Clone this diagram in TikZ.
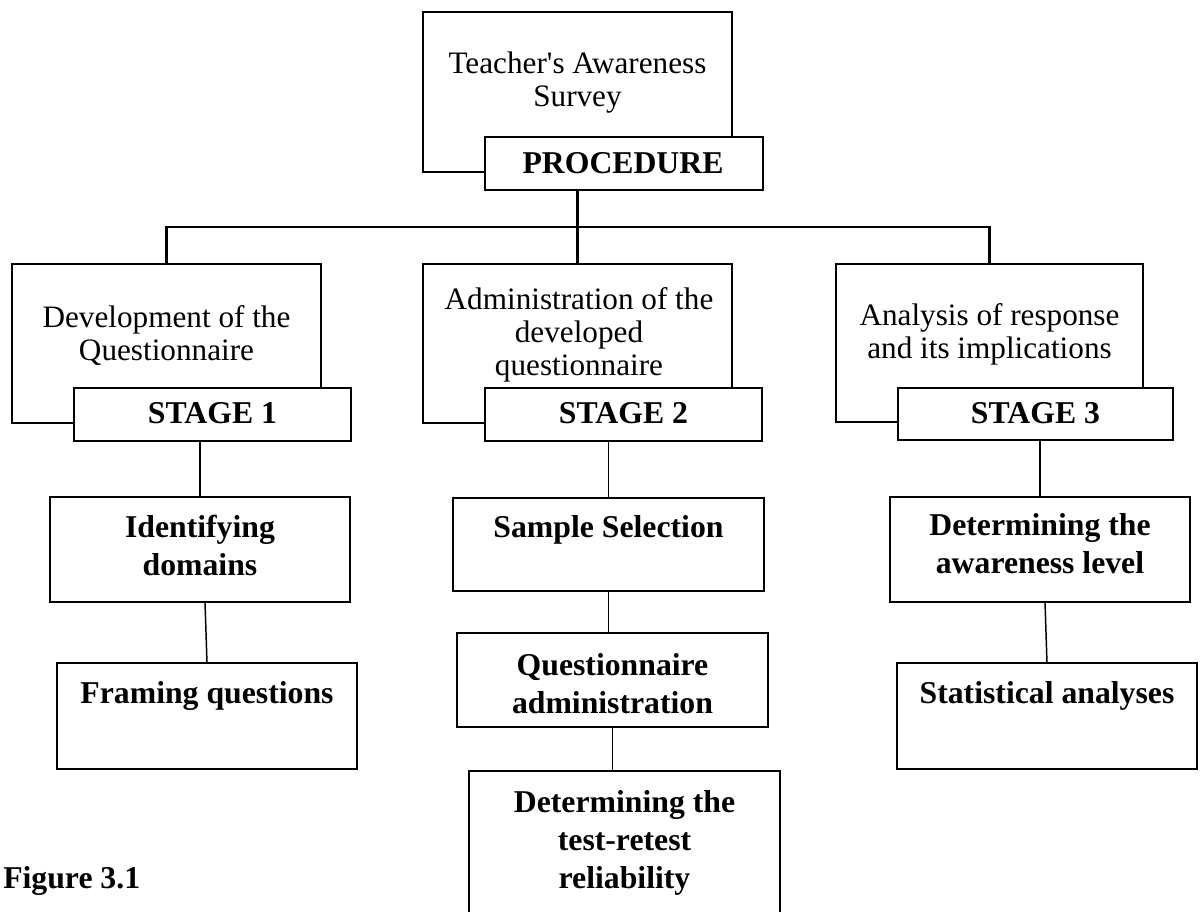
\documentclass[tikz,border=0pt]{standalone}
\usepackage{fontspec}
\setmainfont{Liberation Serif}[Ligatures=TeXOff]
\usetikzlibrary{calc}
\newcommand\mylines[1]{\begin{tabular}[t]{@{}c@{}}#1\end{tabular}}
\newcommand\bx[6]{\node[#1, minimum width={(#4-#2)*0.75pt}, minimum height={(#5-#3)*0.75pt}] (#6) at ({(#2+#4)/2},{(#3+#5)/2}) {};}
\begin{document}
\begin{tikzpicture}[x=0.75pt,y=-0.75pt,
  mainbox/.style={draw, line width=1.9pt, fill=white, inner sep=0pt, outer sep=0pt},
  subbox/.style={draw, line width=1.3pt, fill=white, inner sep=0pt, outer sep=0pt},
  thicklink/.style={line width=1.9pt},
  thinlink/.style={line width=1.1pt},
  regtext/.style={anchor=base, inner sep=0pt, font=\fontsize{23.4}{24.75}\selectfont},
  boldtext/.style={anchor=base, inner sep=0pt, font=\fontsize{23.8}{28.5}\selectfont\bfseries},
]
\useasboundingbox (0,0) rectangle (1200,911);
\clip (0,0) rectangle (1200,911);
\fill[white] (0,0) rectangle (1200,911);

% connectors
\coordinate (hub) at (578,227);

% boxes
\bx{mainbox}{423}{12}{732}{172}{tb}
\bx{mainbox}{485}{137}{763}{190}{proc}
\bx{mainbox}{12}{264}{321}{423}{s1}
\bx{mainbox}{74}{388}{351}{441}{st1}
\bx{mainbox}{423}{264}{732}{423}{s2}
\bx{mainbox}{485}{388}{762}{441}{st2}
\bx{mainbox}{836}{264}{1143}{422}{s3}
\bx{mainbox}{898}{388}{1173}{440}{st3}
\bx{subbox}{50}{497}{350}{602}{idd}
\bx{subbox}{57}{663}{357}{769}{fq}
\bx{subbox}{453}{498}{764}{591}{ss}
\bx{subbox}{457}{633}{768}{727}{qa}
\bx{subbox}{469}{771}{780}{960}{rel}
\bx{subbox}{890}{497}{1190}{602}{dal}
\bx{subbox}{897}{663}{1197}{769}{sa}

\draw[thicklink] (proc.south -| tb.south) -- (s2.north);
\draw[thicklink] (s1.north) |- (hub) -| (s3.north);
\draw[thinlink] (st1.south -| idd.north) -- (idd.north);
\draw[thinlink] ($(idd.south)+(5,0)$) -- (fq.north);
\draw[thinlink] (st2.south -| ss.north) -- (ss.north);
\draw[thinlink] (ss.south) -- (ss.south |- qa.north);
\draw[thinlink] (qa.south) -- (qa.south |- rel.north);
\draw[thinlink] (st3.south -| dal.north) -- (dal.north);
\draw[thinlink] ($(dal.south)+(5,0)$) -- (sa.north);

% texts
\node[regtext] (ttb) at (577.5,73) {\mylines{Teacher's Awareness\\Survey}};
\node[boldtext] (tproc) at (623,173) {PROCEDURE};
\node[regtext] (ts1) at (166.5,327) {\mylines{Development of the\\Questionnaire}};
\node[regtext] (ts2) at (579,309) {\mylines{Administration of the\\developed\\questionnaire}};
\node[regtext] (ts3) at (989.5,325) {\mylines{Analysis of response\\and its implications}};
\node[boldtext] (tst1) at (212.5,423) {STAGE 1};
\node[boldtext] (tst2) at (623.5,423) {STAGE 2};
\node[boldtext] (tst3) at (1035.5,423) {STAGE 3};
\node[boldtext] (tidd) at (200,537) {\mylines{Identifying\\domains}};
\node[boldtext] (tfq) at (207,703) {Framing questions};
\node[boldtext] (tss) at (608.5,537) {Sample Selection};
\node[boldtext] (tqa) at (612.5,675) {\mylines{Questionnaire\\administration}};
\node[boldtext] (trel) at (624.5,812) {\mylines{Determining the\\test-retest\\reliability}};
\node[boldtext] (tdal) at (1040,535) {\mylines{Determining the\\awareness level}};
\node[boldtext] (tsa) at (1047,703) {Statistical analyses};
\node[boldtext, anchor=base west] (tfig) at (3,888) {Figure 3.1};
\end{tikzpicture}
\end{document}
